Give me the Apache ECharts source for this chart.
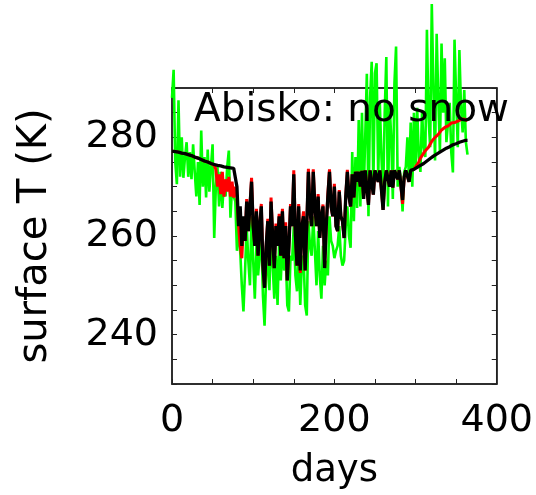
<!DOCTYPE html>
<html>
<head>
<meta charset="utf-8">
<script src="https://cdn.jsdelivr.net/npm/echarts@6/dist/echarts.min.js"></script>
<style>
  html, body { margin: 0; padding: 0; background: #fff; }
  #main { width: 536px; height: 495px; }
</style>
</head>
<body>
<div id="main"></div>
<script>
// sampled every 2 days, day 0 .. 364
var step = 2;

// green: surface T, no snow
var greenT = [
  288, 293.7, 275, 270.5, 287.5, 272, 280, 271.8, 276, 279,
  272, 277, 271.5, 278.6, 273, 268, 275, 266.3, 281.4, 270,
  276, 267.8, 277.5, 269, 274, 278.6, 259.6, 270, 274, 266,
  273, 265.7, 271, 268, 274, 277.3, 263.7, 270, 268, 267,
  257, 262, 257, 250, 244.7, 253, 262, 255, 250, 264,
  255, 247.3, 258, 252, 256, 260, 248, 241.8, 252, 257,
  249, 261, 254, 247.3, 256, 246, 259, 251, 259, 253,
  257, 246, 244.7, 256, 255, 262, 252, 248.8, 257, 246,
  255, 256, 246, 243.9, 263, 258, 256, 264, 257, 250,
  261, 252, 247.3, 258, 250, 255, 252, 264, 259, 258,
  255.5, 257, 258, 262, 256, 254, 255, 262, 266, 260,
  257.6, 277, 263, 276, 265.7, 283.5, 266, 285, 268, 280,
  292.9, 264, 288, 295.3, 270, 293, 295, 272, 287, 276,
  268, 285, 296.3, 266, 287, 280, 267.5, 291, 298.4, 270,
  274, 271, 265, 273, 274, 280, 271, 283, 270, 285,
  274, 286, 276, 273, 285.5, 278, 276, 301.8, 284, 278,
  307, 290, 275.3, 301, 288, 277, 299, 285, 296, 279,
  283, 287, 277, 272.9, 299.8, 288, 278, 297.7, 286, 281,
  289.6, 279, 276.5
];

// red
var redT = [
  277.2, 277.2, 277.1, 277.0, 277.0, 276.9, 276.8, 276.7, 276.7, 276.6,
  276.5, 276.4, 276.3, 276.2, 276.0, 275.9, 275.8, 275.6, 275.5, 275.4,
  275.2, 275.1, 275.0, 274.8, 274.7, 274.6, 274.3, 273.5, 270, 272.5,
  268.5, 273, 268, 271.5, 269, 272, 268, 271, 267.8, 270,
  268, 262, 258, 255.5, 262, 259, 267.5, 261, 266, 271.8,
  262, 258, 265.5, 256, 262, 266.5, 254, 249.5, 258, 263.5,
  254, 267.8, 260, 253.5, 262.5, 258, 264.5, 256, 265.5, 255.5,
  262.8, 251, 258, 266.5, 262, 273.3, 260, 254, 266.5, 252.5,
  262, 265, 253, 262, 273.6, 265, 262, 273.5, 266, 262,
  268.5, 259.6, 264, 266.4, 253.5, 262, 268.6, 273.5, 266, 264,
  270.6, 262, 261, 269.3, 264, 263, 259.6, 268, 273.4, 268,
  266, 272.5, 267.8, 273, 271, 273, 270, 273.2, 267.5, 273.3,
  273.3, 266.3, 273.3, 273.3, 268.4, 273.3, 273.3, 271, 273.3, 273.3,
  265.3, 271, 273.3, 273.3, 270, 273.3, 269.8, 273.3, 273.3, 271.5,
  273.3, 273.3, 266.5, 272, 273.3, 273.3, 271, 273.3, 273.4, 273.5,
  274, 274.5, 275, 275.8, 276.3, 276.8, 277.3, 277.6, 278, 278.6,
  279.2, 279.6, 280, 280.3, 280.6, 281, 281.5, 281.8, 282, 282.1,
  282.3, 282.6, 282.9, 283, 283, 283.1, 283.3, 283.5, 283.6, 283.7,
  283.7, 283.6, 283.4
];

// black
var blackT = [
  277.2, 277.2, 277.1, 277.0, 277.0, 276.9, 276.8, 276.7, 276.7, 276.6,
  276.5, 276.4, 276.3, 276.2, 276.0, 275.9, 275.8, 275.6, 275.5, 275.4,
  275.2, 275.1, 275.0, 274.8, 274.7, 274.6, 274.5, 274.4, 274.3, 274.2,
  274.2, 274.1, 274.0, 274.0, 273.9, 273.9, 273.8, 273.7, 273.7, 273.6,
  270, 262, 266, 258, 264, 259, 267, 261, 266, 271,
  262, 258, 265, 256, 262, 266, 254, 249.5, 258, 263,
  254, 267, 260, 253.5, 262, 258, 264, 256, 265, 255.5,
  262, 251, 258, 266, 262, 272.5, 260, 254, 266, 253,
  262, 264, 253, 262, 273, 265, 262, 273, 266, 262,
  268, 259.6, 264, 266, 253.5, 262, 268, 273, 266, 264,
  270, 262, 261, 269, 264, 263, 259.6, 268, 273, 268,
  266, 272.5, 267.8, 273, 271, 273, 270, 273.2, 267.5, 273.3,
  273.3, 266.3, 273.3, 273.3, 268.4, 273.3, 273.3, 271, 273.3, 273.3,
  265.3, 271, 273.3, 273.3, 270, 273.3, 269.8, 273.3, 273.3, 271.5,
  273.3, 273.3, 267.3, 272, 273.3, 273.3, 271, 273.3, 273.4, 273.5,
  273.6, 273.9, 274.1, 274.3, 274.5, 274.7, 274.9, 275.2, 275.5, 275.7,
  276.0, 276.2, 276.4, 276.6, 276.8, 277.0, 277.2, 277.4, 277.6, 277.8,
  278.0, 278.1, 278.3, 278.5, 278.6, 278.7, 278.9, 279.0, 279.1, 279.2,
  279.3, 279.4, 279.4
];

var yLabels = [240, 260, 280];
var xLabels = [0, 200, 400];

function pairs(arr) {
  var out = [];
  for (var i = 0; i < arr.length; i++) {
    out.push([i * step, arr[i]]);
  }
  return out;
}

var font = 'DejaVu Sans';

function xAx(pos, labels) {
  return {
    type: 'value', position: pos, min: 0, max: 400, interval: 50,
    axisLine: { show: true, onZero: false, lineStyle: { color: '#222', width: 1.5 } },
    axisTick: { show: true, inside: true, length: 5, lineStyle: { color: '#222' } },
    splitLine: { show: false },
    axisLabel: {
      show: labels, margin: 18, fontSize: 38, fontFamily: font, color: '#000',
      showMinLabel: true, showMaxLabel: true,
      formatter: function (v) { return xLabels.indexOf(v) >= 0 ? String(v) : ''; }
    },
    name: labels ? 'days' : '',
    nameLocation: 'middle', nameGap: 69,
    nameTextStyle: { fontSize: 37, fontFamily: font, color: '#000' }
  };
}

function yAx(pos, labels) {
  return {
    type: 'value', position: pos, min: 230, max: 290, interval: 5,
    axisLine: { show: true, onZero: false, lineStyle: { color: '#222', width: 1.5 } },
    axisTick: { show: true, inside: true, length: 5, lineStyle: { color: '#222' } },
    splitLine: { show: false },
    axisLabel: {
      show: labels, margin: 14, fontSize: 38, fontFamily: font, color: '#000',
      formatter: function (v) { return yLabels.indexOf(v) >= 0 ? String(v) : ''; }
    },
    name: labels ? 'surface T (K)' : '',
    nameLocation: 'middle', nameGap: 116,
    nameTextStyle: { fontSize: 40, fontFamily: font, color: '#000' }
  };
}

function line(name, arr, color, w) {
  return {
    name: name, type: 'line', data: pairs(arr), showSymbol: false, symbol: 'none',
    clip: false, lineStyle: { color: color, width: w }, itemStyle: { color: color }
  };
}

var myChart = echarts.init(document.getElementById('main'), null, { renderer: 'canvas' });
var option = {
  animation: false,
  backgroundColor: '#fff',
  grid: {
    left: 172, right: 36, top: 88, bottom: 110, containLabel: false,
    show: true, borderColor: '#222', borderWidth: 1.5, backgroundColor: 'transparent'
  },
  xAxis: [xAx('bottom', true), xAx('top', false)],
  yAxis: [yAx('left', true), yAx('right', false)],
  series: [
    line('no snow', greenT, '#00ff00', 2.6),
    line('red', redT, '#ff0000', 3),
    line('black', blackT, '#000000', 3.3)
  ],
  graphic: [{
    type: 'text', left: 194, top: 91, z: 100,
    style: { text: 'Abisko: no snow', font: '39px "DejaVu Sans"', fill: '#000' }
  }]
};
myChart.setOption(option);
</script>
</body>
</html>
